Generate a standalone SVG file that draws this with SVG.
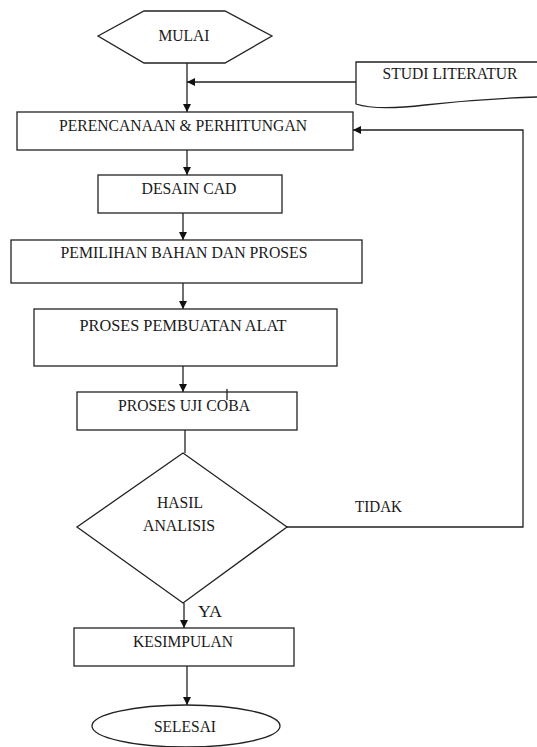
<svg xmlns="http://www.w3.org/2000/svg" width="537" height="747" viewBox="0 0 537 747">
<style>
.s{fill:#fff;stroke:#222;stroke-width:1.3}
.c{fill:none;stroke:#222;stroke-width:1.3}
.t{font-family:"Liberation Serif","Times New Roman",serif;font-size:17px;fill:#1a1a1a;text-anchor:middle}
.l{font-family:"Liberation Serif","Times New Roman",serif;font-size:17px;fill:#1a1a1a}
</style>
<defs>
<marker id="ah" markerUnits="userSpaceOnUse" markerWidth="9" markerHeight="9" refX="8" refY="4" orient="auto">
<path d="M0,0 L8,4 L0,8 z" fill="#111"/>
</marker>
</defs>
<rect width="537" height="747" fill="#fff"/>
<g id="connectors">
<path class="c" d="M187,63 V112" marker-end="url(#ah)"/>
<path class="c" d="M356,82 H187" marker-end="url(#ah)"/>
<path class="c" d="M187,150 V175" marker-end="url(#ah)"/>
<path class="c" d="M183,213 V240" marker-end="url(#ah)"/>
<path class="c" d="M183,283 V309" marker-end="url(#ah)"/>
<path class="c" d="M183,366 V392" marker-end="url(#ah)"/>
<path class="c" d="M185,430 V453"/>
<path class="c" d="M287,527 H523 V130 H353" marker-end="url(#ah)"/>
<path class="c" d="M184,603 V628" marker-end="url(#ah)"/>
<path class="c" d="M187,666 V705" marker-end="url(#ah)"/>
<text class="l" x="355" y="512" textLength="47" lengthAdjust="spacingAndGlyphs">TIDAK</text>
<text class="l" x="198" y="617" textLength="24" lengthAdjust="spacingAndGlyphs">YA</text>
</g>
<g id="mulai">
<polygon class="s" points="98,36 144,11 225,11 272,36 225,63 144,63"/>
<text class="t" x="184" y="41" textLength="51" lengthAdjust="spacingAndGlyphs">MULAI</text>
</g>
<g id="studi">
<path class="s" d="M537,62 H356 V104 C368,108 392,109 425,105 C470,100 505,98 537,97"/>
<text class="t" x="450" y="79" textLength="135" lengthAdjust="spacingAndGlyphs">STUDI LITERATUR</text>
</g>
<g id="perencanaan">
<rect class="s" x="17" y="112" width="336" height="38"/>
<text class="t" x="183" y="131" textLength="248" lengthAdjust="spacingAndGlyphs">PERENCANAAN &amp; PERHITUNGAN</text>
</g>
<g id="desain">
<rect class="s" x="98" y="175" width="184" height="38"/>
<text class="t" x="189" y="194" textLength="95" lengthAdjust="spacingAndGlyphs">DESAIN CAD</text>
</g>
<g id="pemilihan">
<rect class="s" x="11" y="240" width="351" height="43"/>
<text class="t" x="184" y="258" textLength="247" lengthAdjust="spacingAndGlyphs">PEMILIHAN BAHAN DAN PROSES</text>
</g>
<g id="pembuatan">
<rect class="s" x="34" y="309" width="303" height="57"/>
<text class="t" x="183" y="331" textLength="207" lengthAdjust="spacingAndGlyphs">PROSES PEMBUATAN ALAT</text>
</g>
<g id="ujicoba">
<rect class="s" x="77" y="392" width="220" height="38"/>
<text class="t" x="184" y="411" textLength="132" lengthAdjust="spacingAndGlyphs">PROSES UJI COBA</text>
<path class="c" d="M227,389 V400"/>
</g>
<g id="hasil">
<polygon class="s" points="183,453 287,527 183,603 77,527"/>
<text class="t" x="180" y="508" textLength="46" lengthAdjust="spacingAndGlyphs">HASIL</text>
<text class="t" x="179" y="531" textLength="72" lengthAdjust="spacingAndGlyphs">ANALISIS</text>
</g>
<g id="kesimpulan">
<rect class="s" x="74" y="628" width="220" height="38"/>
<text class="t" x="183" y="647" textLength="100" lengthAdjust="spacingAndGlyphs">KESIMPULAN</text>
</g>
<g id="selesai">
<ellipse class="s" cx="186" cy="726" rx="94" ry="21"/>
<text class="t" x="185" y="732" textLength="62" lengthAdjust="spacingAndGlyphs">SELESAI</text>
</g>
</svg>
